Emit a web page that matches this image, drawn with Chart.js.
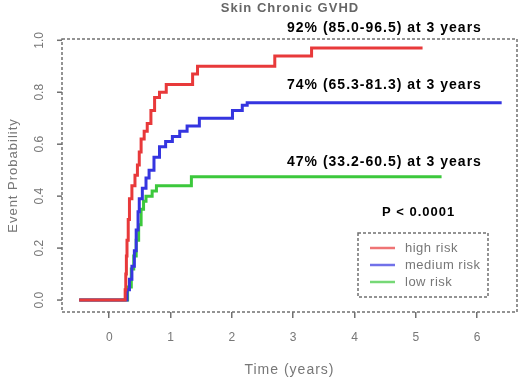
<!DOCTYPE html>
<html lang="en">
<head>
    <meta charset="UTF-8">
    <title>Skin Chronic GVHD</title>
    <style>
        html, body { margin: 0; padding: 0; background: #fff; }
        .chart-box { width: 520px; height: 379px; }
    </style>
</head>
<body>
    <div class="chart-box">
        <canvas id="gvhdChart" width="520" height="379"></canvas>
    </div>

    <script src="https://cdn.jsdelivr.net/npm/chart.js"></script>
    <script>
        // tick labels
        const xTicks = [0, 1, 2, 3, 4, 5, 6];
        const yTicks = [0.0, 0.2, 0.4, 0.6, 0.8, 1.0];

        // series (time in years, cumulative event probability)
        const highTime = [-0.49, 0.245, 0.26, 0.27, 0.28, 0.29, 0.31, 0.33, 0.37, 0.42, 0.46, 0.49, 0.52, 0.57, 0.62, 0.68, 0.74, 0.82, 0.93, 1.36, 1.44, 2.70, 3.30, 5.11];
        const highProb = [0, 0, 0.04, 0.10, 0.17, 0.23, 0.31, 0.39, 0.44, 0.48, 0.52, 0.57, 0.62, 0.65, 0.68, 0.73, 0.78, 0.80, 0.83, 0.87, 0.90, 0.94, 0.97, 0.97];

        const medTime = [-0.49, 0.245, 0.29, 0.33, 0.37, 0.41, 0.44, 0.47, 0.49, 0.54, 0.60, 0.65, 0.73, 0.82, 0.92, 1.03, 1.15, 1.27, 1.47, 2.01, 2.17, 2.25, 6.40];
        const medProb = [0, 0, 0.04, 0.08, 0.13, 0.19, 0.27, 0.34, 0.39, 0.43, 0.47, 0.50, 0.55, 0.59, 0.61, 0.63, 0.65, 0.67, 0.70, 0.73, 0.75, 0.76, 0.76];

        const lowTime = [-0.49, 0.245, 0.30, 0.36, 0.40, 0.44, 0.48, 0.52, 0.56, 0.60, 0.70, 0.77, 1.34, 5.42];
        const lowProb = [0, 0, 0.05, 0.12, 0.17, 0.23, 0.29, 0.35, 0.38, 0.40, 0.42, 0.44, 0.475, 0.475];

        const groupNames = ['high risk', 'medium risk', 'low risk'];
        const groupColors = ['#e8393a', '#3535e0', '#3cc83c'];
        const notes = [
            '92% (85.0-96.5) at 3 years',
            '74% (65.3-81.3) at 3 years',
            '47% (33.2-60.5) at 3 years'
        ];
        const pText = 'P < 0.0001';

        function toPoints(t, p) {
            return t.map((v, i) => ({ x: v, y: p[i] }));
        }

        // box, rotated y labels, legend and annotations (R style)
        const rStyle = {
            id: 'rStyle',
            afterDraw(chart) {
                const c = chart.ctx;
                const a = chart.chartArea;
                const ys = chart.scales.y;
                c.save();
                c.strokeStyle = '#707070';
                c.lineWidth = 1.5;
                c.setLineDash([3, 2]);
                c.strokeRect(a.left, a.top, a.right - a.left, a.bottom - a.top);
                c.setLineDash([]);

                // y ticks
                c.fillStyle = '#777';
                c.font = '12px "Liberation Sans", Arial, sans-serif';
                c.textAlign = 'center';
                c.textBaseline = 'middle';
                yTicks.forEach(v => {
                    const py = ys.getPixelForValue(v);
                    c.beginPath();
                    c.moveTo(a.left - 5, py);
                    c.lineTo(a.left, py);
                    c.stroke();
                    c.save();
                    c.translate(40, py);
                    c.rotate(-Math.PI / 2);
                    c.fillText(v.toFixed(1), 0, 0);
                    c.restore();
                });

                // axis titles
                c.font = '13px "Liberation Sans", Arial, sans-serif';
                c.letterSpacing = '1px';
                c.save();
                c.translate(13, (a.top + a.bottom) / 2);
                c.rotate(-Math.PI / 2);
                c.fillText('Event Probability', 0, 0);
                c.restore();
                c.font = '14px "Liberation Sans", Arial, sans-serif';
                c.fillText('Time (years)', (a.left + a.right) / 2, 370);

                // title
                c.font = 'bold 13px "Liberation Sans", Arial, sans-serif';
                c.fillStyle = '#666';
                c.fillText('Skin Chronic GVHD', 290, 8);

                // annotations
                c.fillStyle = '#000';
                c.font = 'bold 14px "Liberation Sans", Arial, sans-serif';
                c.textAlign = 'left';
                c.fillText(notes[0], 287, 28);
                c.fillText(notes[1], 287, 85);
                c.fillText(notes[2], 287, 162);
                c.font = 'bold 13px "Liberation Sans", Arial, sans-serif';
                c.fillText(pText, 382, 212);

                // legend
                c.strokeStyle = '#707070';
                c.lineWidth = 1.5;
                c.setLineDash([3, 2]);
                c.strokeRect(358, 233, 130, 64);
                c.setLineDash([]);
                c.font = '13px "Liberation Sans", Arial, sans-serif';
                c.letterSpacing = '0.5px';
                groupNames.forEach((name, i) => {
                    const ly = 248 + i * 17;
                    c.strokeStyle = groupColors[i];
                    c.globalAlpha = 0.7;
                    c.lineWidth = 2.5;
                    c.beginPath();
                    c.moveTo(370, ly);
                    c.lineTo(395, ly);
                    c.stroke();
                    c.globalAlpha = 1;
                    c.fillStyle = '#777';
                    c.fillText(name, 405, ly);
                });
                c.restore();
            }
        };

        const ctx = document.getElementById('gvhdChart').getContext('2d');

        const gvhdChart = new Chart(ctx, {
            type: 'line',
            data: {
                datasets: [
                    { label: groupNames[0], data: toPoints(highTime, highProb), borderColor: groupColors[0] },
                    { label: groupNames[1], data: toPoints(medTime, medProb), borderColor: groupColors[1] },
                    { label: groupNames[2], data: toPoints(lowTime, lowProb), borderColor: groupColors[2] }
                ].map(ds => Object.assign(ds, {
                    stepped: true,
                    borderWidth: 3,
                    pointRadius: 0,
                    fill: false
                }))
            },
            options: {
                responsive: false,
                animation: false,
                layout: { padding: { top: 39, right: 3, left: 0, bottom: 0 } },
                plugins: {
                    legend: { display: false },
                    tooltip: { enabled: false }
                },
                scales: {
                    x: {
                        type: 'linear',
                        min: -0.77,
                        max: 6.65,
                        afterBuildTicks: s => { s.ticks = xTicks.map(v => ({ value: v })); },
                        afterFit: s => { s.height = 67; },
                        grid: { drawOnChartArea: false, tickLength: 6, color: '#707070', lineWidth: 1.5 },
                        border: { display: false },
                        ticks: { color: '#777', font: { size: 12, family: 'Liberation Sans' }, padding: 12, maxRotation: 0 }
                    },
                    y: {
                        min: -0.046,
                        max: 1.005,
                        afterFit: s => { s.width = 62; },
                        grid: { display: false },
                        border: { display: false },
                        ticks: { display: false }
                    }
                }
            },
            plugins: [rStyle]
        });
    </script>
</body>
</html>
